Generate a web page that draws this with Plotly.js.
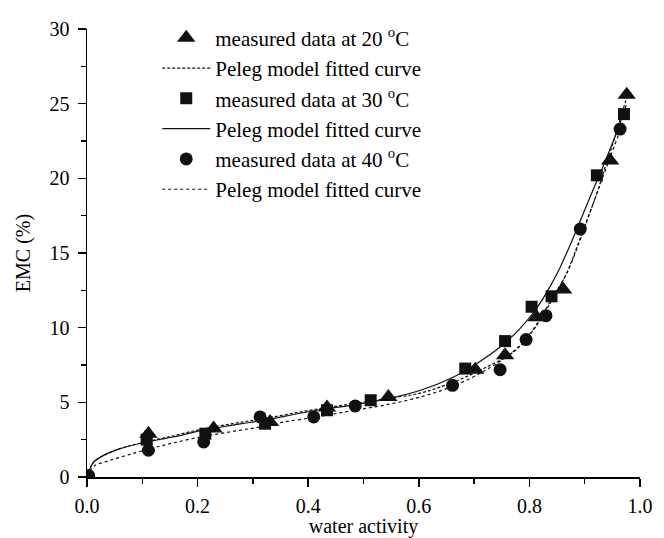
<!DOCTYPE html>
<html>
<head>
<meta charset="utf-8">
<script src="https://cdn.plot.ly/plotly-3.0.1.min.js"></script>
<style>html,body{margin:0;padding:0;background:#fff;}#chart{width:664px;height:538px;}</style>
</head>
<body>
<div id="chart"></div>
<script>
// Measured data (water activity, EMC %)
var aw20 = [0.111, 0.229, 0.331, 0.434, 0.545, 0.702, 0.756, 0.813, 0.861, 0.946, 0.976];
var emc20 = [2.9, 3.24, 3.68, 4.65, 5.36, 7.19, 8.15, 10.7, 12.55, 21.2, 25.6];

var aw30 = [0.108, 0.214, 0.322, 0.434, 0.513, 0.684, 0.756, 0.804, 0.840, 0.922, 0.971];
var emc30 = [2.5, 2.9, 3.57, 4.47, 5.14, 7.26, 9.1, 11.4, 12.1, 20.2, 24.3];

var aw40 = [0.003, 0.111, 0.211, 0.313, 0.410, 0.485, 0.661, 0.747, 0.794, 0.830, 0.892, 0.964];
var emc40 = [0.1, 1.79, 2.35, 4.02, 4.02, 4.76, 6.14, 7.19, 9.2, 10.8, 16.6, 23.3];

// Peleg model fitted curves
var fitAw20 = [0.002, 0.006, 0.012, 0.03, 0.06, 0.10, 0.14, 0.205, 0.28, 0.31, 0.416, 0.476, 0.536, 0.603, 0.663, 0.723, 0.771, 0.807, 0.843, 0.867, 0.886, 0.904, 0.922, 0.937, 0.955, 0.970, 0.977];
var fitEmc20 = [0.3, 0.6, 1.0, 1.45, 1.9, 2.3, 2.62, 3.18, 3.68, 3.85, 4.55, 4.88, 5.22, 5.62, 6.36, 7.37, 8.37, 9.83, 12.0, 13.62, 15.4, 17.2, 18.98, 20.76, 22.8, 24.7, 25.5];

var fitAw30 = [0.002, 0.006, 0.012, 0.03, 0.06, 0.10, 0.14, 0.17, 0.205, 0.24, 0.28, 0.31, 0.416, 0.476, 0.536, 0.603, 0.663, 0.705, 0.747, 0.783, 0.813, 0.835, 0.855, 0.879, 0.898, 0.916, 0.931, 0.943, 0.955, 0.964, 0.975];
var fitEmc30 = [0.3, 0.6, 1.0, 1.45, 1.9, 2.28, 2.57, 2.79, 3.1, 3.33, 3.57, 3.74, 4.47, 4.8, 5.18, 5.81, 6.7, 7.6, 8.7, 9.94, 11.3, 12.6, 14.0, 16.0, 17.7, 19.3, 20.6, 21.7, 22.8, 23.7, 24.9];

var fitAw40 = [0.005, 0.015, 0.036, 0.078, 0.138, 0.205, 0.277, 0.313, 0.355, 0.416, 0.476, 0.536, 0.603, 0.663, 0.723, 0.771, 0.807, 0.843, 0.867, 0.892, 0.922, 0.945, 0.965];
var fitEmc40 = [0.4, 0.78, 1.05, 1.52, 2.12, 2.68, 3.13, 3.35, 3.68, 4.02, 4.42, 4.8, 5.36, 6.1, 7.2, 8.4, 9.9, 12.1, 13.6, 15.9, 19.0, 21.3, 23.3];

var labels = [
  'measured data at 20 <sup>o</sup>C',
  'Peleg model fitted curve',
  'measured data at 30 <sup>o</sup>C',
  'Peleg model fitted curve',
  'measured data at 40 <sup>o</sup>C',
  'Peleg model fitted curve'
];

var FONT = 'Liberation Serif, Times New Roman, serif';

var traces = [
  {x: aw20, y: emc20, name: labels[0], mode: 'markers', type: 'scatter',
   marker: {symbol: 'triangle-up', size: 16, color: '#111'}},
  {x: fitAw20, y: fitEmc20, name: labels[1], mode: 'lines', type: 'scatter',
   line: {color: '#111', width: 1.2, dash: '3px,2px', shape: 'spline', smoothing: 1}},
  {x: aw30, y: emc30, name: labels[2], mode: 'markers', type: 'scatter',
   marker: {symbol: 'square', size: 12, color: '#111'}},
  {x: fitAw30, y: fitEmc30, name: labels[3], mode: 'lines', type: 'scatter',
   line: {color: '#111', width: 1.2, shape: 'spline', smoothing: 1}},
  {x: aw40, y: emc40, name: labels[4], mode: 'markers', type: 'scatter', cliponaxis: true,
   marker: {symbol: 'circle', size: 13, color: '#111'}},
  {x: fitAw40, y: fitEmc40, name: labels[5], mode: 'lines', type: 'scatter',
   line: {color: '#111', width: 1.2, dash: 'dot', shape: 'spline', smoothing: 1}}
];

var layout = {
  width: 664, height: 538,
  margin: {l: 87, r: 24, t: 29, b: 61},
  paper_bgcolor: '#fff', plot_bgcolor: '#fff',
  font: {family: FONT, size: 20, color: '#000'},
  showlegend: true,
  legend: {x: 0.127, y: 1.0254, xanchor: 'left', yanchor: 'top',
           bgcolor: 'rgba(0,0,0,0)', font: {family: FONT, size: 21, color: '#000'},
           itemwidth: 48, tracegroupgap: 0},
  xaxis: {
    range: [0, 1], dtick: 0.2, tickformat: '.1f',
    showgrid: false, zeroline: false, showline: true, linecolor: '#000', linewidth: 1.5,
    ticks: 'outside', ticklen: 8, tickwidth: 1.5, tickcolor: '#000', ticklabelstandoff: 2,
    minor: {dtick: 0.1, ticks: 'outside', ticklen: 5, tickwidth: 1.5, tickcolor: '#000', showgrid: false},
    tickfont: {family: FONT, size: 20, color: '#000'},
    title: {text: 'water activity', font: {family: FONT, size: 20, color: '#000'}, standoff: 14}
  },
  yaxis: {
    range: [0, 30], dtick: 5,
    showgrid: false, zeroline: false, showline: true, linecolor: '#000', linewidth: 1.5,
    ticks: 'outside', ticklen: 8, tickwidth: 1.5, tickcolor: '#000', ticklabelstandoff: 4,
    minor: {dtick: 2.5, ticks: 'outside', ticklen: 5, tickwidth: 1.5, tickcolor: '#000', showgrid: false},
    tickfont: {family: FONT, size: 20, color: '#000'},
    title: {text: 'EMC (%)', font: {family: FONT, size: 20, color: '#000'}, standoff: 13}
  }
};

Plotly.newPlot('chart', traces, layout, {displayModeBar: false, staticPlot: true});
</script>
</body>
</html>
